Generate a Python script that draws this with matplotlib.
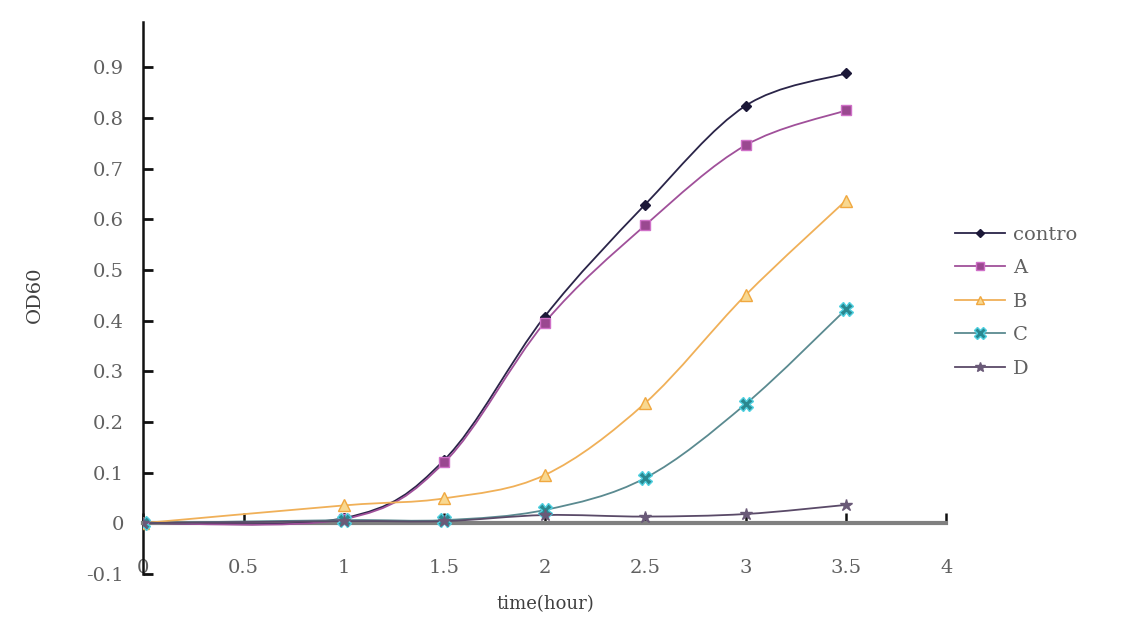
import numpy as np
import matplotlib.pyplot as plt
from matplotlib.path import Path
from matplotlib.patches import PathPatch
from matplotlib.lines import Line2D

# time points (hour)
hours = [0, 1, 1.5, 2, 2.5, 3, 3.5]

control = [0.0, 0.010, 0.125, 0.408, 0.629, 0.824, 0.888]
a_vals = [0.0, 0.008, 0.120, 0.396, 0.588, 0.746, 0.815]
b_vals = [0.0, 0.035, 0.049, 0.095, 0.237, 0.450, 0.637]
c_vals = [0.0, 0.006, 0.006, 0.026, 0.089, 0.235, 0.422]
d_vals = [0.0, 0.004, 0.004, 0.016, 0.013, 0.018, 0.036]

names = ["contro", "A", "B", "C", "D"]
series = [control, a_vals, b_vals, c_vals, d_vals]

xticks = [0, 0.5, 1, 1.5, 2, 2.5, 3, 3.5, 4]
xticklabels = ["0", "0.5", "1", "1.5", "2", "2.5", "3", "3.5", "4"]
yticks = [-0.1, 0, 0.1, 0.2, 0.3, 0.4, 0.5, 0.6, 0.7, 0.8, 0.9]
yticklabels = ["-0.1", "0", "0.1", "0.2", "0.3", "0.4", "0.5", "0.6", "0.7", "0.8", "0.9"]

styles = [
    dict(color="#2a2448", marker="D", ms=5, mfc="#1c1838", mec="#1c1838"),
    dict(color="#a0509a", marker="s", ms=7, mfc="#9a4890", mec="#d070c8"),
    dict(color="#f0b058", marker="^", ms=8, mfc="#f8d890", mec="#f0a840"),
    dict(color="#5a8a90", marker="X", ms=10, mfc="#2a8890", mec="#50d0e0"),
    dict(color="#5a4a68", marker="*", ms=9, mfc="#6a5a78", mec="#6a5a78"),
]

plt.rcParams['font.family'] = ['DejaVu Serif']
txt = "#606060"


def smooth_path(x, y, t=1/6):
    # Excel style smoothed line: bezier segments through the data points
    x = np.asarray(x, float)
    y = np.asarray(y, float)
    verts = [(x[0], y[0])]
    codes = [Path.MOVETO]
    n = len(x)
    for i in range(n - 1):
        p0 = np.array([x[max(i - 1, 0)], y[max(i - 1, 0)]])
        p1 = np.array([x[i], y[i]])
        p2 = np.array([x[i + 1], y[i + 1]])
        p3 = np.array([x[min(i + 2, n - 1)], y[min(i + 2, n - 1)]])
        c1 = p1 + (p2 - p0) * t
        c2 = p2 - (p3 - p1) * t
        verts += [tuple(c1), tuple(c2), tuple(p2)]
        codes += [Path.CURVE4] * 3
    return Path(verts, codes)


fig = plt.figure(figsize=(11.36, 6.21), dpi=100)
ax = fig.add_axes([0.126, 0.076, 0.707, 0.889])

for name, vals, st in zip(names, series, styles):
    ax.add_patch(PathPatch(smooth_path(hours, vals), fill=False,
                           edgecolor=st["color"], lw=1.3, zorder=3))
    ax.plot(hours, vals, linestyle="none", marker=st["marker"], ms=st["ms"],
            mfc=st["mfc"], mec=st["mec"], mew=1, zorder=4)

ax.set_xlim(0, 4)
ax.set_ylim(-0.1, 0.99)

ax.spines['top'].set_visible(False)
ax.spines['right'].set_visible(False)
ax.spines['left'].set_linewidth(1.8)
ax.spines['left'].set_color("#111111")
ax.spines['bottom'].set_position(('data', 0))
ax.spines['bottom'].set_linewidth(3)
ax.spines['bottom'].set_color("#808080")

ax.set_xticks(xticks)
ax.set_xticklabels(xticklabels)
ax.set_yticks(yticks)
ax.set_yticklabels(yticklabels)
ax.tick_params(axis='x', direction='in', length=7, width=1.8, color="#111111",
               pad=26, labelsize=14, labelcolor=txt)
ax.tick_params(axis='y', direction='in', length=7, width=2, color="#111111",
               pad=14, labelsize=14, labelcolor=txt)

fig.text(545 / 1136, 1 - 604 / 621, "time(hour)", fontsize=13, color="#404040",
         ha="center", va="center")
fig.text(35 / 1136, 1 - 295 / 621, "OD60", fontsize=14, color="#404040",
         ha="center", va="center", rotation=90)

handles = [Line2D([0], [0], color=st["color"], lw=1.3, marker=st["marker"],
                  ms=st["ms"] * 0.8, mfc=st["mfc"], mec=st["mec"])
           for st in styles]
leg = fig.legend(handles, names, loc="upper left", bbox_to_anchor=(0.825, 0.665),
                 frameon=False, fontsize=14, labelcolor=txt, handlelength=2.6,
                 handletextpad=0.4, labelspacing=0.8)

fig.savefig("out.png", dpi=100)
